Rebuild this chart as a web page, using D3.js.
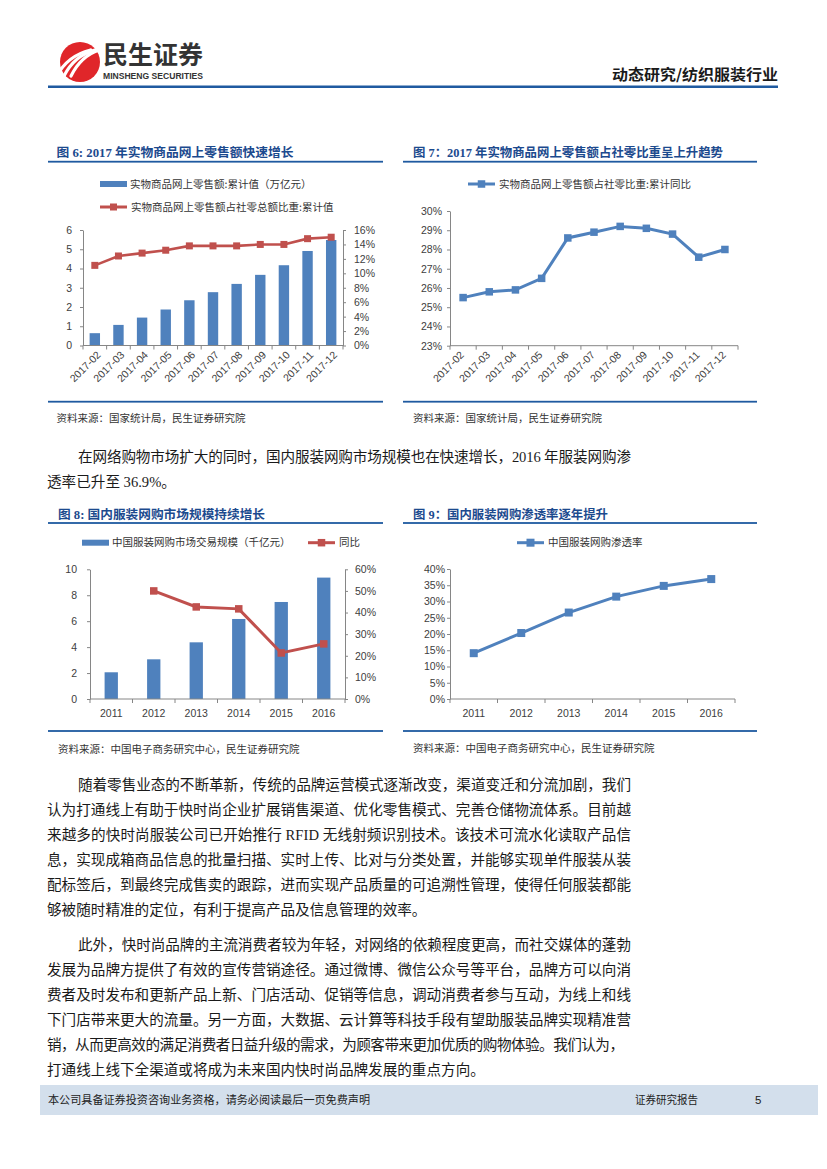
<!DOCTYPE html>
<html><head><meta charset="utf-8">
<script src="https://cdn.jsdelivr.net/npm/d3@7"></script>
<style>body{margin:0;background:#fff}svg{display:block}</style>
</head><body><svg id="page" width="827" height="1169"></svg>
<script>
// ---------------- DATA ----------------
const months = ["2017-02","2017-03","2017-04","2017-05","2017-06","2017-07","2017-08","2017-09","2017-10","2017-11","2017-12"];
const onlineRetail = [0.64,1.07,1.45,1.87,2.35,2.77,3.20,3.67,4.17,4.91,5.48];
const onlineShare = [0.111,0.124,0.128,0.132,0.138,0.138,0.138,0.140,0.140,0.148,0.150];
const shareCumYoY = [0.255,0.258,0.259,0.265,0.286,0.289,0.292,0.291,0.288,0.276,0.280];
const years = ["2011","2012","2013","2014","2015","2016"];
const apparelMarket = [2.06,3.06,4.37,6.17,7.48,9.36];
const apparelGrowth = [null,0.50,0.426,0.417,0.213,0.255];
const apparelPenetration = [0.141,0.203,0.266,0.315,0.348,0.369];
const ticks6L = [0,1,2,3,4,5,6];
const ticks6R = [0,0.02,0.04,0.06,0.08,0.10,0.12,0.14,0.16];
const ticks7 = [0.23,0.24,0.25,0.26,0.27,0.28,0.29,0.30];
const ticks8L = [0,2,4,6,8,10];
const ticks8R = [0,0.1,0.2,0.3,0.4,0.5,0.6];
const ticks9 = [0,0.05,0.10,0.15,0.20,0.25,0.30,0.35,0.40];

const titles = ["图 6: 2017 年实物商品网上零售额快速增长","图 7：2017 年实物商品网上零售额占社零比重呈上升趋势","图 8: 国内服装网购市场规模持续增长","图 9：国内服装网购渗透率逐年提升"];
const sources = ["资料来源：国家统计局，民生证券研究院","资料来源：国家统计局，民生证券研究院","资料来源：中国电子商务研究中心，民生证券研究院","资料来源：中国电子商务研究中心，民生证券研究院"];
const legend6 = ["实物商品网上零售额:累计值（万亿元）","实物商品网上零售额占社零总额比重:累计值"];
const legend7 = ["实物商品网上零售额占社零比重:累计同比"];
const legend8 = ["中国服装网购市场交易规模（千亿元）","同比"];
const legend9 = ["中国服装网购渗透率"];

const para1 = [
 {t:"在网络购物市场扩大的同时，国内服装网购市场规模也在快速增长，2016 年服装网购渗", indent:true, just:true},
 {t:"透率已升至 36.9%。"}
];
const para2 = [
 {t:"随着零售业态的不断革新，传统的品牌运营模式逐渐改变，渠道变迁和分流加剧，我们", indent:true, just:true},
 {t:"认为打通线上有助于快时尚企业扩展销售渠道、优化零售模式、完善仓储物流体系。目前越", just:true},
 {t:"来越多的快时尚服装公司已开始推行 RFID 无线射频识别技术。该技术可流水化读取产品信", just:true},
 {t:"息，实现成箱商品信息的批量扫描、实时上传、比对与分类处置，并能够实现单件服装从装", just:true},
 {t:"配标签后，到最终完成售卖的跟踪，进而实现产品质量的可追溯性管理，使得任何服装都能", just:true},
 {t:"够被随时精准的定位，有利于提高产品及信息管理的效率。"}
];
const para3 = [
 {t:"此外，快时尚品牌的主流消费者较为年轻，对网络的依赖程度更高，而社交媒体的蓬勃", indent:true, just:true},
 {t:"发展为品牌方提供了有效的宣传营销途径。通过微博、微信公众号等平台，品牌方可以向消", just:true},
 {t:"费者及时发布和更新产品上新、门店活动、促销等信息，调动消费者参与互动，为线上和线", just:true},
 {t:"下门店带来更大的流量。另一方面，大数据、云计算等科技手段有望助服装品牌实现精准营", just:true},
 {t:"销，从而更高效的满足消费者日益升级的需求，为顾客带来更加优质的购物体验。我们认为，", just:true, end:624},
 {t:"打通线上线下全渠道或将成为未来国内快时尚品牌发展的重点方向。"}
];

// ---------------- STYLE ----------------
const CJK = "'Noto Sans CJK SC','Noto Sans',sans-serif";
const SERIF = "'Liberation Serif','Noto Sans CJK SC',serif";
const NUM = "'Liberation Sans','Noto Sans CJK SC',sans-serif";
const BLUE = "#4f81bd", RED = "#c0504d", AXIS = "#868686", TXT = "#404040";
const DARKBLUE = "#1f5aa0";

const svg = d3.select("#page");
svg.append("rect").attr("width",827).attr("height",1169).attr("fill","#fff");

// ---------------- HEADER ----------------
const logo = svg.append("g");
logo.append("circle").attr("cx",80).attr("cy",62).attr("r",20).attr("fill","#e0262a");
[-9,-2,5].forEach(o=>{
  logo.append("path")
    .attr("d",`M${66+o},${76} Q${76+o},${56} ${96+o*0.6},${50}`)
    .attr("stroke","#fff").attr("stroke-width",3.2).attr("fill","none").attr("stroke-linecap","round");
});
svg.append("text").attr("x",103).attr("y",55).attr("dy","0.35em")
  .attr("font-family",CJK).attr("font-weight",700).attr("font-size",25).attr("fill","#333")
  .attr("textLength",100).attr("lengthAdjust","spacingAndGlyphs").text("民生证券");
svg.append("text").attr("x",103).attr("y",76).attr("dy","0.35em")
  .attr("font-family","'Liberation Sans Narrow','Liberation Sans',sans-serif").attr("font-weight",700).attr("font-size",9).attr("fill","#333")
  .attr("textLength",100).attr("lengthAdjust","spacingAndGlyphs").text("MINSHENG SECURITIES");
svg.append("text").attr("x",612).attr("y",75).attr("dy","0.35em")
  .attr("font-family",CJK).attr("font-weight",700).attr("font-size",14.5).attr("fill","#1a1a1a")
  .attr("textLength",166).attr("lengthAdjust","spacingAndGlyphs").text("动态研究/纺织服装行业");
svg.append("rect").attr("x",48).attr("y",85.5).attr("width",730).attr("height",2.5).attr("fill",DARKBLUE);

// ---------------- FRAMES ----------------
function frame(x0,x1,titleX,titleY,titleW,lineY,botY,srcY,title,src){
  svg.append("text").attr("x",titleX).attr("y",titleY).attr("dy","0.35em")
    .attr("font-family",SERIF).attr("font-weight",700).attr("font-size",12.5).attr("fill","#1c4a8e")
    .attr("textLength",titleW).attr("lengthAdjust","spacingAndGlyphs").text(title);
  svg.append("rect").attr("x",x0).attr("y",lineY-0.9).attr("width",x1-x0).attr("height",1.8).attr("fill",DARKBLUE);
  svg.append("rect").attr("x",x0).attr("y",botY-0.9).attr("width",x1-x0).attr("height",1.8).attr("fill",DARKBLUE);
  svg.append("text").attr("x",titleX).attr("y",srcY).attr("dy","0.35em")
    .attr("font-family",CJK).attr("font-size",10.5).attr("fill","#333").text(src);
}
frame(48,383,56.5,152.7,237,161.7,401.7,418,titles[0],sources[0]);
frame(403,757,413,152.7,310,161.7,401.7,418,titles[1],sources[1]);
frame(48,383,58,515,207,523,731,749,titles[2],sources[2]);
frame(403,757,413,515,195,523,731,748,titles[3],sources[3]);

// ---------------- helpers ----------------
function styleAxis(g){
  g.selectAll(".domain").attr("stroke",AXIS);
  g.selectAll(".tick line").attr("stroke",AXIS);
  g.selectAll("text").attr("font-family",NUM).attr("font-size",10.5).attr("fill",TXT);
}
function xAxisBand(x,y,n){
  const [r0,r1]=x.range();
  svg.append("line").attr("x1",r0).attr("x2",r1).attr("y1",y).attr("y2",y).attr("stroke",AXIS);
  const step=(r1-r0)/n;
  d3.range(n+1).forEach(i=>{
    svg.append("line").attr("x1",r0+i*step).attr("x2",r0+i*step).attr("y1",y).attr("y2",y+4).attr("stroke",AXIS);
  });
}
function squareMarkers(data,xf,yf,size,color){
  svg.append("g").selectAll("rect").data(data.filter(d=>d.v!=null)).join("rect")
    .attr("x",d=>xf(d)-size/2).attr("y",d=>yf(d)-size/2).attr("width",size).attr("height",size).attr("fill",color);
}
function legendBar(x,y,label){
  svg.append("rect").attr("x",x).attr("y",y-3).attr("width",27).attr("height",6).attr("fill",BLUE);
  svg.append("text").attr("x",x+30).attr("y",y).attr("dy","0.35em").attr("font-family",CJK).attr("font-size",10.5).attr("fill","#333").text(label);
}
function legendLine(x,y,label,color,ms){
  svg.append("line").attr("x1",x).attr("x2",x+27).attr("y1",y).attr("y2",y).attr("stroke",color).attr("stroke-width",3);
  svg.append("rect").attr("x",x+13.5-ms/2).attr("y",y-ms/2).attr("width",ms).attr("height",ms).attr("fill",color);
  svg.append("text").attr("x",x+31).attr("y",y).attr("dy","0.35em").attr("font-family",CJK).attr("font-size",10.5).attr("fill","#333").text(label);
}

// ---------------- CHART 6 ----------------
{
  const x = d3.scaleBand().domain(months).range([83,343]).paddingInner(0.56).paddingOuter(0.28);
  const yL = d3.scaleLinear().domain([0,6]).range([345.5,230]);
  const yR = d3.scaleLinear().domain([0,0.16]).range([345.5,230]);
  const cx = m => x(m)+x.bandwidth()/2;
  svg.append("g").selectAll("rect").data(months.map((m,i)=>({m,v:onlineRetail[i]}))).join("rect")
    .attr("x",d=>x(d.m)).attr("width",x.bandwidth()).attr("y",d=>yL(d.v)).attr("height",d=>yL(0)-yL(d.v)).attr("fill",BLUE);
  const gl = svg.append("g").attr("transform","translate(83,0)")
    .call(d3.axisLeft(yL).tickValues(ticks6L).tickFormat(d3.format("d")).tickSize(3).tickSizeOuter(0).tickPadding(8));
  styleAxis(gl);
  const gr = svg.append("g").attr("transform","translate(343,0)")
    .call(d3.axisRight(yR).tickValues(ticks6R).tickFormat(d3.format(".0%")).tickSize(3).tickSizeOuter(0).tickPadding(8));
  styleAxis(gr);
  xAxisBand(x,345.5,months.length);
  svg.append("g").selectAll("text").data(months).join("text")
    .attr("transform",m=>`translate(${cx(m)+4},353) rotate(-45)`)
    .attr("text-anchor","end").attr("dy","0.35em").attr("font-family",NUM).attr("font-size",10.5).attr("fill",TXT).text(m=>m);
  const pts = months.map((m,i)=>({m,v:onlineShare[i]}));
  svg.append("path").datum(pts).attr("fill","none").attr("stroke",RED).attr("stroke-width",2.6)
    .attr("d",d3.line().x(d=>cx(d.m)).y(d=>yR(d.v)));
  squareMarkers(pts,d=>cx(d.m),d=>yR(d.v),7,RED);
  legendBar(100,184,legend6[0]);
  legendLine(100,207,legend6[1],RED,7);
}

// ---------------- CHART 7 ----------------
{
  const x = d3.scaleBand().domain(months).range([450,738]);
  const y = d3.scaleLinear().domain([0.23,0.30]).range([345.7,211]);
  const cx = m => x(m)+x.bandwidth()/2;
  const g = svg.append("g").attr("transform","translate(450,0)")
    .call(d3.axisLeft(y).tickValues(ticks7).tickFormat(d3.format(".0%")).tickSize(3).tickSizeOuter(0).tickPadding(5));
  styleAxis(g);
  xAxisBand(x,345.7,months.length);
  svg.append("g").selectAll("text").data(months).join("text")
    .attr("transform",m=>`translate(${cx(m)-1},353) rotate(-45)`)
    .attr("text-anchor","end").attr("dy","0.35em").attr("font-family",NUM).attr("font-size",10.5).attr("fill",TXT).text(m=>m);
  const pts = months.map((m,i)=>({m,v:shareCumYoY[i]}));
  svg.append("path").datum(pts).attr("fill","none").attr("stroke",BLUE).attr("stroke-width",3)
    .attr("d",d3.line().x(d=>cx(d.m)).y(d=>y(d.v)));
  squareMarkers(pts,d=>cx(d.m),d=>y(d.v),7.5,BLUE);
  legendLine(468,184,legend7[0],BLUE,7.5);
}

// ---------------- CHART 8 ----------------
{
  const x = d3.scaleBand().domain(years).range([90,345]).paddingInner(0.687).paddingOuter(0.3435);
  const yL = d3.scaleLinear().domain([0,10]).range([699,569.3]);
  const yR = d3.scaleLinear().domain([0,0.6]).range([699,569.3]);
  const cx = m => x(m)+x.bandwidth()/2;
  svg.append("g").selectAll("rect").data(years.map((m,i)=>({m,v:apparelMarket[i]}))).join("rect")
    .attr("x",d=>x(d.m)).attr("width",x.bandwidth()).attr("y",d=>yL(d.v)).attr("height",d=>yL(0)-yL(d.v)).attr("fill",BLUE);
  const gl = svg.append("g").attr("transform","translate(90,0)")
    .call(d3.axisLeft(yL).tickValues(ticks8L).tickFormat(d3.format("d")).tickSize(3).tickSizeOuter(0).tickPadding(10));
  styleAxis(gl);
  const gr = svg.append("g").attr("transform","translate(345,0)")
    .call(d3.axisRight(yR).tickValues(ticks8R).tickFormat(d3.format(".0%")).tickSize(3).tickSizeOuter(0).tickPadding(7));
  styleAxis(gr);
  xAxisBand(x,699,years.length);
  svg.append("g").selectAll("text").data(years).join("text")
    .attr("x",cx).attr("y",713).attr("dy","0.35em").attr("text-anchor","middle")
    .attr("font-family",NUM).attr("font-size",10.5).attr("fill",TXT).text(m=>m);
  const pts = years.map((m,i)=>({m,v:apparelGrowth[i]})).filter(d=>d.v!=null);
  svg.append("path").datum(pts).attr("fill","none").attr("stroke",RED).attr("stroke-width",3)
    .attr("d",d3.line().x(d=>cx(d.m)).y(d=>yR(d.v)));
  squareMarkers(pts,d=>cx(d.m),d=>yR(d.v),7.5,RED);
  legendBar(82,542.7,legend8[0]);
  legendLine(308,542.7,legend8[1],RED,7.5);
}

// ---------------- CHART 9 ----------------
{
  const x = d3.scaleBand().domain(years).range([450,735]);
  const y = d3.scaleLinear().domain([0,0.4]).range([699,569]);
  const cx = m => x(m)+x.bandwidth()/2;
  const g = svg.append("g").attr("transform","translate(450,0)")
    .call(d3.axisLeft(y).tickValues(ticks9).tickFormat(d3.format(".0%")).tickSize(3).tickSizeOuter(0).tickPadding(2));
  styleAxis(g);
  xAxisBand(x,699,years.length);
  svg.append("g").selectAll("text").data(years).join("text")
    .attr("x",cx).attr("y",713).attr("dy","0.35em").attr("text-anchor","middle")
    .attr("font-family",NUM).attr("font-size",10.5).attr("fill",TXT).text(m=>m);
  const pts = years.map((m,i)=>({m,v:apparelPenetration[i]}));
  svg.append("path").datum(pts).attr("fill","none").attr("stroke",BLUE).attr("stroke-width",3)
    .attr("d",d3.line().x(d=>cx(d.m)).y(d=>y(d.v)));
  squareMarkers(pts,d=>cx(d.m),d=>y(d.v),8,BLUE);
  legendLine(517,542.7,legend9[0],BLUE,8);
}

// ---------------- BODY TEXT ----------------
function paragraph(lines,y0){
  lines.forEach((l,i)=>{
    const x = l.indent?78:47;
    const t = svg.append("text").attr("x",x).attr("y",y0+i*25).attr("dy","0.35em")
      .attr("font-family",SERIF).attr("font-size",14.6).attr("fill","#1a1a1a").text(l.t);
    if(l.just){ t.attr("textLength",(l.end||631)-x).attr("lengthAdjust","spacing"); }
  });
}
paragraph(para1,456.5);
paragraph(para2,785);
paragraph(para3,945);

// ---------------- FOOTER ----------------
svg.append("rect").attr("x",40).attr("y",1085).attr("width",778).attr("height",30).attr("fill","#d3dfec");
svg.append("text").attr("x",48).attr("y",1100).attr("dy","0.35em").attr("font-family",CJK).attr("font-size",11).attr("fill","#222")
  .attr("textLength",322).attr("lengthAdjust","spacingAndGlyphs").text("本公司具备证券投资咨询业务资格，请务必阅读最后一页免费声明");
svg.append("text").attr("x",635).attr("y",1100).attr("dy","0.35em").attr("font-family",CJK).attr("font-size",11).attr("fill","#222")
  .attr("textLength",63).attr("lengthAdjust","spacingAndGlyphs").text("证券研究报告");
svg.append("text").attr("x",755).attr("y",1100).attr("dy","0.35em").attr("font-family",NUM).attr("font-size",11.5).attr("fill","#222").text("5");
</script></body></html>
